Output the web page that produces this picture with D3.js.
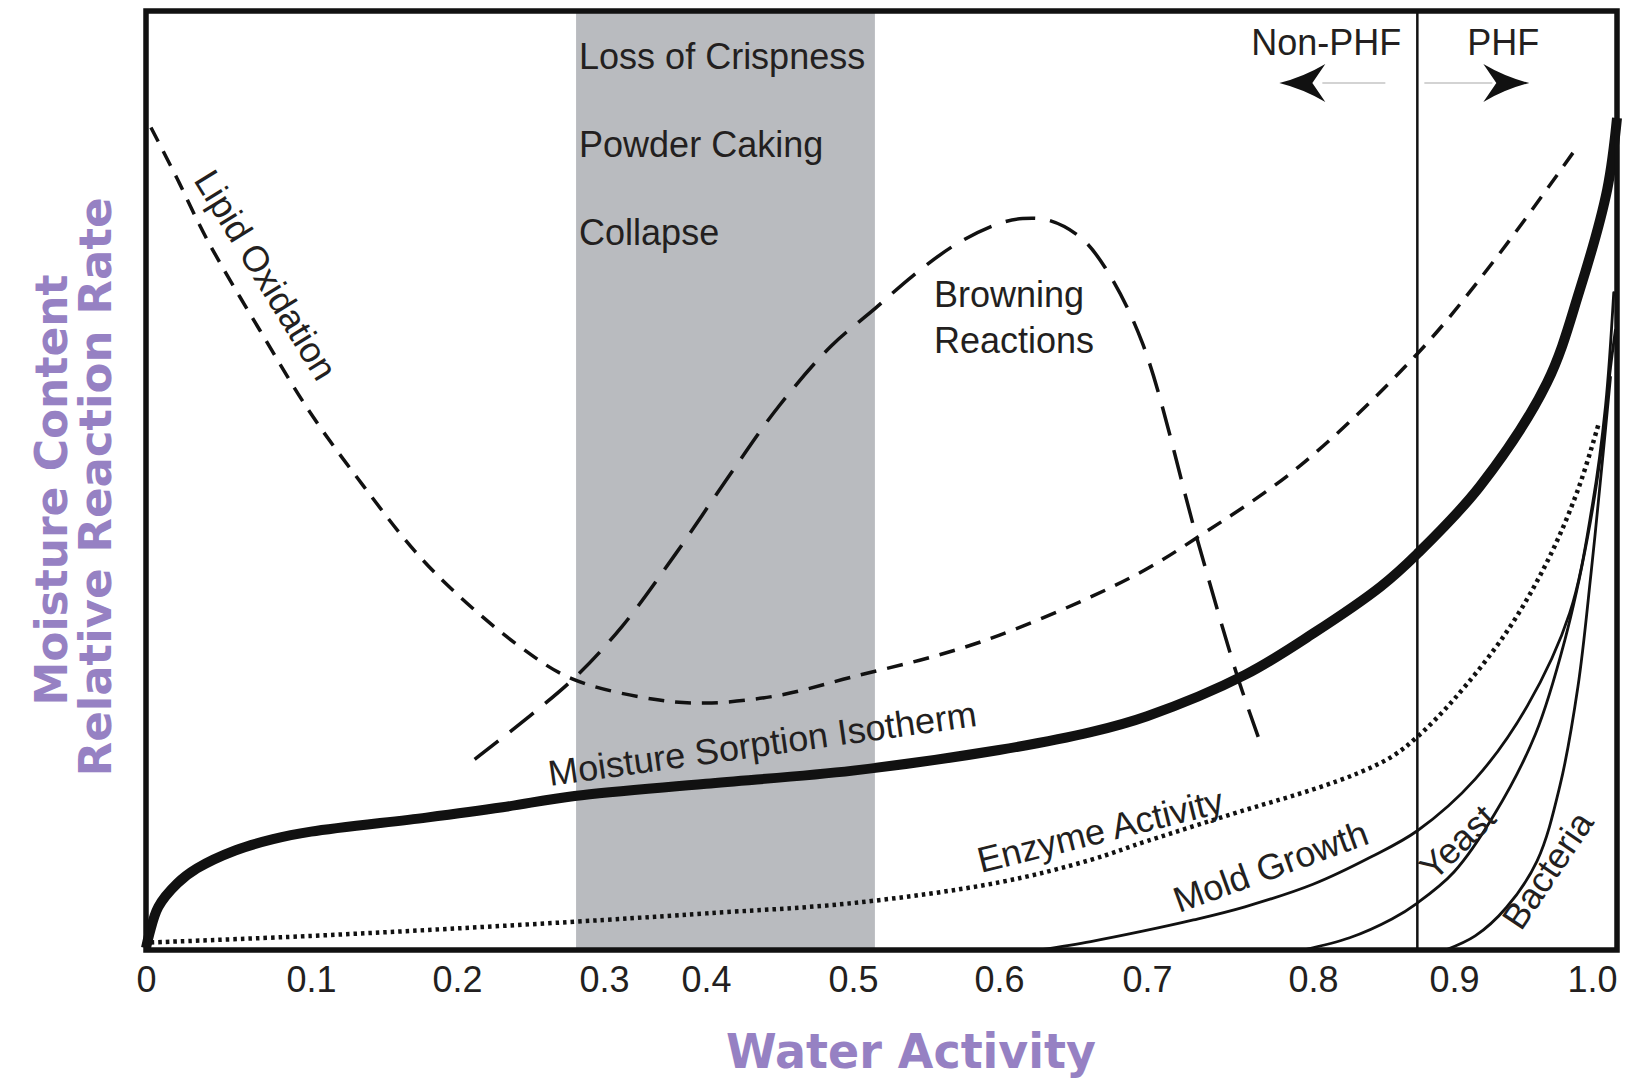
<!DOCTYPE html>
<html>
<head>
<meta charset="utf-8">
<script src="https://cdn.jsdelivr.net/npm/d3@7"></script>
<style>
  body { margin: 0; background: #fff; }
  svg { display: block; }
  .lbl { font-family: "Liberation Sans", Arial, Helvetica, sans-serif; font-size: 36px; fill: #231f20; }
  .ttl { font-family: "DejaVu Sans", Verdana, sans-serif; font-weight: bold; fill: #9681c3; }
</style>
</head>
<body>
<div id="chart"></div>
<script>
// x axis ticks (water activity)
var awTicks = [0, 0.1, 0.2, 0.3, 0.4, 0.5, 0.6, 0.7, 0.8, 0.9, 1.0];
var tickLabels = ["0", "0.1", "0.2", "0.3", "0.4", "0.5", "0.6", "0.7", "0.8", "0.9", "1.0"];

// curves as [water activity, relative value 0-100]
var isotherm = [[0, 0.2], [0.002, 1.7], [0.0075, 4.6], [0.019, 7.1], [0.031, 8.7], [0.054, 10.6],
  [0.077, 11.8], [0.1, 12.6], [0.179, 14.1], [0.231, 15.2], [0.28, 16.4], [0.4, 17.7], [0.5, 19.1],
  [0.6, 21.3], [0.662, 23.2], [0.7, 24.9], [0.759, 29.3], [0.8, 33.7], [0.848, 38.7], [0.874, 42.2],
  [0.916, 49.4], [0.957, 60.4], [0.977, 70.2], [0.994, 81.0], [1.0, 88.6]];
var lipid = [[0.003, 87.6], [0.019, 82.1], [0.0375, 75.5], [0.069, 66.0], [0.1, 57.1], [0.136, 49.4],
  [0.171, 42.5], [0.2, 37.9], [0.242, 32.4], [0.278, 28.9], [0.349, 26.7], [0.4, 26.3], [0.449, 27.1],
  [0.5, 29.1], [0.556, 31.3], [0.6, 33.5], [0.662, 37.6], [0.7, 40.6], [0.73, 43.9], [0.791, 51.4],
  [0.874, 63.5], [0.925, 73.5], [0.973, 84.9]];
var browning = [[0.212, 20.3], [0.278, 28.7], [0.318, 34.5], [0.369, 42.0], [0.414, 50.1], [0.449, 57.8],
  [0.485, 64.3], [0.515, 68.3], [0.541, 71.8], [0.57, 75.1], [0.599, 77.3], [0.616, 77.9], [0.634, 77.7],
  [0.655, 75.9], [0.672, 72.6], [0.697, 64.6], [0.73, 43.9], [0.754, 29.4], [0.767, 22.7]];
var enzyme = [[0.003, 0.8], [0.1, 1.5], [0.2, 2.3], [0.3, 3.2], [0.4, 3.9], [0.5, 5.0], [0.6, 7.2],
  [0.662, 9.6], [0.7, 11.6], [0.759, 14.9], [0.8, 17.1], [0.833, 18.9], [0.856, 20.6], [0.874, 22.7],
  [0.9, 26.7], [0.932, 33.8], [0.957, 41.3], [0.976, 49.0], [0.989, 56.2]];
var mold = [[0.627, 0], [0.662, 0.9], [0.697, 2.0], [0.728, 3.2], [0.759, 4.6], [0.8, 7.0], [0.841, 9.9],
  [0.874, 12.7], [0.913, 18.2], [0.945, 26.0], [0.971, 35.9], [0.985, 47.5], [0.993, 58.0], [0.998, 70.0]];
var yeast = [[0.794, 0], [0.826, 1.3], [0.856, 3.3], [0.874, 5.0], [0.9, 8.3], [0.925, 14.5], [0.95, 23.0],
  [0.968, 33.0], [0.982, 44.0], [0.991, 54.0], [0.996, 62.0], [0.999, 66.0]];
var bacteria = [[0.894, 0], [0.913, 1.5], [0.932, 4.5], [0.951, 9.5], [0.965, 17.5], [0.976, 28.0],
  [0.984, 40.0], [0.991, 52.0], [0.996, 61.0]];

var crispBand = [0.281, 0.515];
var phfLimit = 0.874;
var bandLabels = ["Loss of Crispness", "Powder Caking", "Collapse"];
var curveLabels = {
  lipid: "Lipid Oxidation", browning: ["Browning", "Reactions"], isotherm: "Moisture Sorption Isotherm",
  enzyme: "Enzyme Activity", mold: "Mold Growth", yeast: "Yeast", bacteria: "Bacteria"
};

var width = 1626, height = 1082;
var frame = { left: 146, right: 1617, top: 11, bottom: 950 };

// the original axis has hand placed ticks, so map each tick to its spot
var x = d3.scaleLinear().domain(awTicks)
    .range([146, 311, 457, 604, 706, 853, 999, 1147, 1313, 1454, 1617]);
var y = d3.scaleLinear().domain([0, 100]).range([frame.bottom, frame.top]);

var svg = d3.select("#chart").append("svg")
    .attr("width", width)
    .attr("height", height);

// shaded texture zone
svg.append("rect")
    .attr("x", x(crispBand[0]))
    .attr("y", frame.top)
    .attr("width", x(crispBand[1]) - x(crispBand[0]))
    .attr("height", frame.bottom - frame.top)
    .attr("fill", "#b9bbbf");

var line = d3.line()
    .x(function (d) { return x(d[0]); })
    .y(function (d) { return y(d[1]); })
    .curve(d3.curveCatmullRom.alpha(0.5));

function curve(data, w, dash, cap) {
    svg.append("path")
        .datum(data)
        .attr("d", line)
        .attr("fill", "none")
        .attr("stroke", "#111")
        .attr("stroke-width", w)
        .attr("stroke-dasharray", dash)
        .attr("stroke-linecap", cap || "butt")
        .attr("stroke-linejoin", "round");
}

curve(lipid, 3.5, "16 11");
curve(browning, 3.5, "30 15");
curve(enzyme, 4.5, "3.5 4");
curve(mold, 2.8, null, "round");
curve(yeast, 2.8, null, "round");
curve(bacteria, 2.8, null, "round");
curve(isotherm, 10, null);

// PHF boundary
var px = x(phfLimit);
svg.append("line")
    .attr("x1", px).attr("x2", px)
    .attr("y1", frame.top).attr("y2", frame.bottom)
    .attr("stroke", "#111").attr("stroke-width", 2.5);

// arrows
var ay = 83;
svg.append("line").attr("x1", px - 32).attr("x2", px - 95).attr("y1", ay).attr("y2", ay)
    .attr("stroke", "#c4c4c4").attr("stroke-width", 1.5);
svg.append("line").attr("x1", px + 7).attr("x2", px + 75).attr("y1", ay).attr("y2", ay)
    .attr("stroke", "#c4c4c4").attr("stroke-width", 1.5);
function head(tip, dir) {
    var p = d3.path();
    p.moveTo(tip, ay);
    p.quadraticCurveTo(tip - dir * 24, ay - 6, tip - dir * 46, ay - 19);
    p.lineTo(tip - dir * 33, ay);
    p.lineTo(tip - dir * 46, ay + 19);
    p.quadraticCurveTo(tip - dir * 24, ay + 6, tip, ay);
    p.closePath();
    svg.append("path").attr("d", p.toString()).attr("fill", "#111");
}
head(px - 138, -1);
head(px + 112, 1);

// frame
svg.append("rect")
    .attr("x", frame.left).attr("y", frame.top)
    .attr("width", frame.right - frame.left)
    .attr("height", frame.bottom - frame.top)
    .attr("fill", "none").attr("stroke", "#111").attr("stroke-width", 5.5);

// x axis labels
var xAxis = d3.axisBottom(x).tickValues(awTicks).tickSize(0)
    .tickFormat(function (d, i) { return tickLabels[i]; });
var gx = svg.append("g")
    .attr("transform", "translate(0," + frame.bottom + ")")
    .call(xAxis);
gx.select(".domain").remove();
gx.selectAll("text")
    .attr("y", 42).attr("dy", null)
    .attr("font-size", 36)
    .attr("font-family", '"Liberation Sans Narrow", "Arial Narrow", "Liberation Sans", sans-serif')
    .attr("fill", "#231f20");
gx.selectAll(".tick").filter(function (d) { return d === 1; })
    .select("text").attr("text-anchor", "end");

// annotations
function label(txt, lx, ly, angle, anchor) {
    svg.append("text")
        .attr("class", "lbl")
        .attr("transform", "translate(" + lx + "," + ly + ") rotate(" + (angle || 0) + ")")
        .attr("text-anchor", anchor || "start")
        .text(txt);
}
bandLabels.forEach(function (t, i) {
    label(t, x(crispBand[0]) + 3, 68.5 + i * 88);
});
label("Non-PHF", px - 16, 55, 0, "end");
label("PHF", px + 50, 55);
label(curveLabels.browning[0], 934, 307);
label(curveLabels.browning[1], 934, 353);
label(curveLabels.lipid, 193, 180, 58.5);
label(curveLabels.isotherm, 550, 786, -8);
label(curveLabels.enzyme, 981, 873, -14);
label(curveLabels.mold, 1179, 913, -20);
label(curveLabels.yeast, 1434, 882, -44);
label(curveLabels.bacteria, 1521, 932, -56);

// axis titles
function title(txt, cx, cy, size, len, angle) {
    svg.append("text")
        .attr("class", "ttl")
        .attr("transform", "translate(" + cx + "," + cy + ") rotate(" + angle + ")")
        .attr("x", -len / 2)
        .attr("font-size", size)
        .attr("textLength", len)
        .attr("lengthAdjust", "spacingAndGlyphs")
        .text(txt);
}
title("Moisture Content", 67, 490, 44, 431, -90);
title("Relative Reaction Rate", 111, 487, 44, 579, -90);
title("Water Activity", 911, 1068, 48, 370, 0);
</script>
</body>
</html>
